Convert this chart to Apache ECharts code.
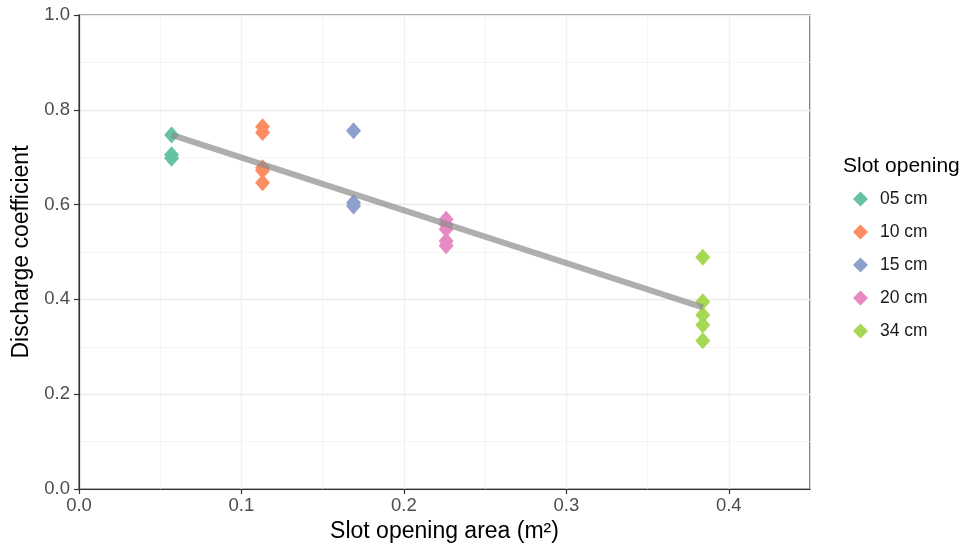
<!DOCTYPE html>
<html>
<head>
<meta charset="utf-8">
<script src="https://cdn.jsdelivr.net/npm/echarts@6/dist/echarts.min.js"></script>
<style>html,body{margin:0;padding:0;background:#fff}#c{width:966px;height:548px}</style>
</head>
<body>
<div id="c"></div>
<script>
const seriesNames = ['05 cm', '10 cm', '15 cm', '20 cm', '34 cm'];
const colors = ['#66C2A5', '#FC8D62', '#8DA0CB', '#E78AC3', '#A6D854'];
const areaValues = [0.057, 0.113, 0.169, 0.226, 0.384];
const cd05 = [0.747, 0.705, 0.698];
const cd10 = [0.764, 0.752, 0.678, 0.672, 0.646];
const cd15 = [0.756, 0.604, 0.597];
const cd20 = [0.569, 0.558, 0.548, 0.523, 0.513];
const cd34 = [0.489, 0.395, 0.367, 0.346, 0.313];
const fitLine = [[0.057, 0.747], [0.384, 0.383]];
const xTicks = [0, 0.1, 0.2, 0.3, 0.4];
const legendTitle = 'Slot opening';
const xTitle = 'Slot opening area (m²)';
const yTitle = 'Discharge coefficient';

const allCd = [cd05, cd10, cd15, cd20, cd34];
const font = '"Liberation Sans", Arial, sans-serif';

const scatterSeries = seriesNames.map((n, i) => ({
  name: n,
  type: 'scatter',
  xAxisIndex: 0,
  symbol: 'diamond',
  symbolSize: [15, 17],
  itemStyle: { color: colors[i], opacity: 1 },
  data: allCd[i].map(v => [areaValues[i], v]),
  z: 3
}));

const chart = echarts.init(document.getElementById('c'));
chart.setOption({
  animation: false,
  textStyle: { fontFamily: font },
  grid: { left: 79, right: 156, top: 15, bottom: 58, show: true, borderColor: '#333', borderWidth: 1.2, containLabel: false },
  xAxis: [{
    type: 'value', min: 0, max: 0.45, interval: 0.1,
    name: xTitle, nameLocation: 'middle', nameGap: 31,
    nameTextStyle: { fontSize: 23, color: '#000', fontFamily: font },
    axisLine: { show: true, lineStyle: { color: '#333', width: 1.2 } },
    axisTick: { show: true, length: 5, lineStyle: { color: '#333', width: 1.2 }, customValues: xTicks },
    axisLabel: { color: '#4D4D4D', fontSize: 18.5, margin: 7, customValues: xTicks, formatter: v => v.toFixed(1) },
    splitLine: { show: true, lineStyle: { color: '#EBEBEB', width: 1.3 } }
  }, {
    type: 'value', min: 0, max: 0.45, interval: 0.05, position: 'top',
    axisLine: { show: false }, axisTick: { show: false }, axisLabel: { show: false },
    splitLine: { show: true, lineStyle: { color: '#F2F2F2', width: 0.8 } }
  }],
  yAxis: {
    type: 'value', min: 0, max: 1, interval: 0.2,
    name: yTitle, nameLocation: 'middle', nameGap: 45,
    nameTextStyle: { fontSize: 23, color: '#000', fontFamily: font },
    axisLine: { show: true, lineStyle: { color: '#333', width: 1.2 } },
    axisTick: { show: true, length: 5, lineStyle: { color: '#333', width: 1.2 } },
    axisLabel: { color: '#4D4D4D', fontSize: 18.5, margin: 9, formatter: v => v.toFixed(1) },
    splitLine: { show: true, lineStyle: { color: '#EBEBEB', width: 1.3 } },
    minorTick: { show: false, splitNumber: 2 },
    minorSplitLine: { show: true, lineStyle: { color: '#F2F2F2', width: 0.8 } }
  },
  legend: {
    orient: 'vertical', left: 853, top: 190, padding: 0,
    data: seriesNames,
    itemWidth: 15, itemHeight: 15, itemGap: 15,
    textStyle: { fontSize: 17.5, color: '#1A1A1A', fontFamily: font, padding: [0, 0, 0, 7] },
    icon: 'diamond'
  },
  graphic: [{
    type: 'text', x: 843, y: 166,
    style: { text: legendTitle, fontSize: 21, fill: '#000', fontFamily: font, verticalAlign: 'middle' }
  }],
  series: scatterSeries.concat([{
    name: 'fit', type: 'line', xAxisIndex: 0, data: fitLine, symbol: 'none',
    lineStyle: { color: '#8C8C8C', width: 6, opacity: 0.7 },
    z: 4, silent: true
  }])
});
</script>
</body>
</html>
